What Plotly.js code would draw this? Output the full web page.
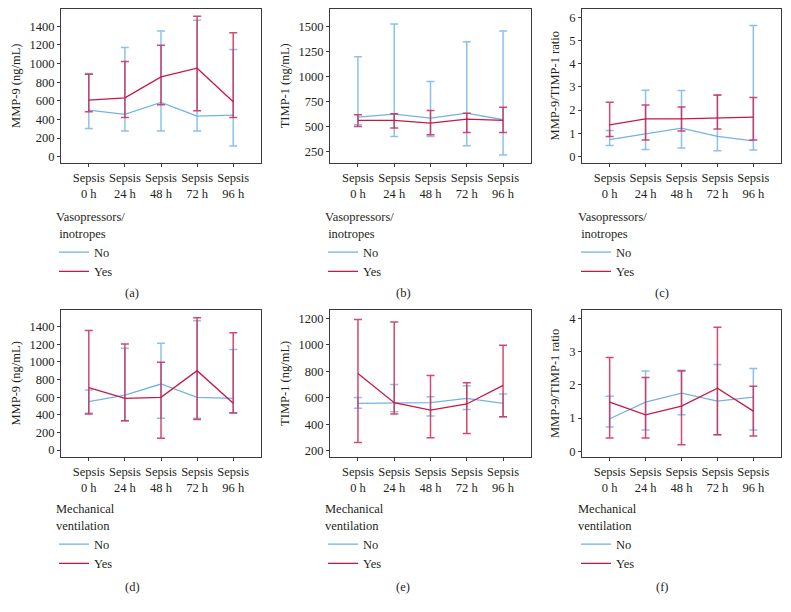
<!DOCTYPE html>
<html>
<head>
<meta charset="utf-8">
<script src="https://cdn.plot.ly/plotly-3.0.1.min.js"></script>
<style>html,body{margin:0;padding:0;background:#fff;}#chart{width:791px;height:612px;}</style>
</head>
<body>
<div id="chart"></div>
<script>
// Categories
var categories = ["Sepsis<br>0 h", "Sepsis<br>24 h", "Sepsis<br>48 h", "Sepsis<br>72 h", "Sepsis<br>96 h"];
var seriesNames = ["No", "Yes"];

// (a) Vasopressors/inotropes – MMP-9 (ng/mL)
var aNoMean  = [500, 454, 582, 436, 446];
var aNoLow   = [304, 275, 275, 275, 114];
var aNoHigh  = [893, 1171, 1350, 1464, 1150];
var aYesMean = [607, 632, 857, 950, 589];
var aYesLow  = [482, 421, 557, 493, 421];
var aYesHigh = [886, 1021, 1196, 1507, 1329];

// (b) Vasopressors/inotropes – TIMP-1 (ng/mL)
var bNoMean  = [593, 623, 583, 633, 567];
var bNoLow   = [517, 400, 400, 307, 213];
var bNoHigh  = [1200, 1527, 950, 1350, 1457];
var bYesMean = [560, 560, 533, 573, 560];
var bYesLow  = [500, 483, 417, 440, 440];
var bYesHigh = [617, 627, 660, 633, 693];

// (c) Vasopressors/inotropes – MMP-9/TIMP-1 ratio
var cNoMean  = [0.72, 0.96, 1.22, 0.86, 0.67];
var cNoLow   = [0.47, 0.29, 0.36, 0.24, 0.27];
var cNoHigh  = [1.12, 2.86, 2.84, 2.64, 5.66];
var cYesMean = [1.36, 1.62, 1.62, 1.65, 1.69];
var cYesLow  = [0.86, 0.70, 1.09, 1.18, 0.70];
var cYesHigh = [2.34, 2.22, 2.13, 2.65, 2.54];

// (d) Mechanical ventilation – MMP-9 (ng/mL)
var dNoMean  = [549, 624, 749, 598, 586];
var dNoLow   = [416, 333, 359, 359, 424];
var dNoHigh  = [681, 1154, 1211, 1468, 1142];
var dYesMean = [708, 586, 598, 900, 530];
var dYesLow  = [409, 333, 132, 345, 420];
var dYesHigh = [1355, 1203, 995, 1502, 1332];

// (e) Mechanical ventilation – TIMP-1 (ng/mL)
var eNoMean  = [558, 563, 563, 595, 558];
var eNoLow   = [520, 495, 462, 512, 457];
var eNoHigh  = [603, 701, 608, 690, 628];
var eYesMean = [784, 563, 507, 553, 694];
var eYesLow  = [263, 477, 298, 331, 457];
var eYesHigh = [1192, 1172, 769, 714, 996];

// (f) Mechanical ventilation – MMP-9/TIMP-1 ratio
var fNoMean  = [0.98, 1.48, 1.75, 1.51, 1.63];
var fNoLow   = [0.73, 0.64, 1.10, 0.50, 0.64];
var fNoHigh  = [1.66, 2.42, 2.44, 2.61, 2.49];
var fYesMean = [1.48, 1.10, 1.36, 1.90, 1.21];
var fYesLow  = [0.40, 0.40, 0.20, 0.50, 0.46];
var fYesHigh = [2.82, 2.22, 2.42, 3.73, 1.96];

var yTitles = ["MMP-9 (ng/mL)", "TIMP-1 (ng/mL)", "MMP-9/TIMP-1 ratio",
               "MMP-9 (ng/mL)", "TIMP-1 (ng/mL)", "MMP-9/TIMP-1 ratio"];
var legendTitles = ["Vasopressors/<br> inotropes", "Vasopressors/<br> inotropes", "Vasopressors/<br> inotropes",
                    "Mechanical<br>ventilation", "Mechanical<br>ventilation", "Mechanical<br>ventilation"];
var panelLabels = ["(a)", "(b)", "(c)", "(d)", "(e)", "(f)"];

var panels = [
  [aNoMean, aNoLow, aNoHigh, aYesMean, aYesLow, aYesHigh],
  [bNoMean, bNoLow, bNoHigh, bYesMean, bYesLow, bYesHigh],
  [cNoMean, cNoLow, cNoHigh, cYesMean, cYesLow, cYesHigh],
  [dNoMean, dNoLow, dNoHigh, dYesMean, dYesLow, dYesHigh],
  [eNoMean, eNoLow, eNoHigh, eYesMean, eYesLow, eYesHigh],
  [fNoMean, fNoLow, fNoHigh, fYesMean, fYesLow, fYesHigh]
];

// ---- styling / layout (not data) ----
var W = 791, H = 612;
var FONT = "Liberation Serif, Times New Roman, serif";
var FS = 12.5;
var TXT = "#231f20";
var blueLine = "rgb(116,178,230)", blueBar = "rgba(120,182,234,0.85)";
var redLine = "rgb(200,24,70)", redBar = "rgba(206,40,86,0.85)";

var xDom = [[61, 261], [330, 531], [582, 781]];
var yDom = [[8.5, 163], [310, 456.7]];
var yRanges = [[-67, 1590], [133, 1683], [-0.29, 6.39], [-76, 1589], [155, 1263], [-0.16, 4.25]];
var yDtick = [200, 250, 1, 200, 200, 1];
var yTick0 = [0, 250, 0, 0, 200, 0];
var labelX = [132, 403, 662];
var labelY = [293, 587];
var legendTop = [205, 497];
var legendLeft = [54, 323, 576];

function diff(a, b) { return a.map(function (v, i) { return v - b[i]; }); }

var traces = [];
var layout = {
  width: W, height: H,
  margin: {l: 0, r: 0, t: 0, b: 0},
  paper_bgcolor: "#fff", plot_bgcolor: "#fff",
  font: {family: FONT, size: FS, color: TXT},
  annotations: []
};

panels.forEach(function (p, k) {
  var col = k % 3, row = Math.floor(k / 3);
  var sfx = k === 0 ? "" : String(k + 1);
  var lg = "legend" + sfx;
  var colors = [[blueLine, blueBar], [redLine, redBar]];
  for (var s = 0; s < 2; s++) {
    var mean = p[s * 3], low = p[s * 3 + 1], high = p[s * 3 + 2];
    traces.push({
      type: "scatter", mode: "lines",
      x: categories, y: mean,
      name: seriesNames[s],
      xaxis: "x" + sfx, yaxis: "y" + sfx,
      legend: lg,
      line: {color: colors[s][0], width: 1.3},
      error_y: {type: "data", symmetric: false, array: diff(high, mean), arrayminus: diff(mean, low),
                color: colors[s][1], thickness: 1.5, width: 4},
      hoverinfo: "skip"
    });
  }
  layout["xaxis" + sfx] = {
    domain: [xDom[col][0] / W, xDom[col][1] / W],
    anchor: "y" + sfx,
    type: "category", range: [-0.77, 4.77],
    showline: true, mirror: true, linecolor: "#3a3a3a", linewidth: 1,
    ticks: "outside", ticklen: 3, tickcolor: "#3a3a3a",
    showgrid: false, zeroline: false,
    tickfont: {family: FONT, size: FS, color: TXT},
    fixedrange: true
  };
  layout["yaxis" + sfx] = {
    domain: [1 - yDom[row][1] / H, 1 - yDom[row][0] / H],
    anchor: "x" + sfx,
    range: yRanges[k], tick0: yTick0[k], dtick: yDtick[k],
    showline: true, mirror: true, linecolor: "#3a3a3a", linewidth: 1,
    ticks: "outside", ticklen: 3, tickcolor: "#3a3a3a",
    showgrid: false, zeroline: false,
    tickfont: {family: FONT, size: FS, color: TXT},
    title: {text: yTitles[k], font: {family: FONT, size: FS, color: TXT}, standoff: 6},
    fixedrange: true
  };
  layout[lg] = {
    x: legendLeft[col] / W, y: 1 - legendTop[row] / H,
    xanchor: "left", yanchor: "top",
    bgcolor: "rgba(0,0,0,0)", borderwidth: 0,
    font: {family: FONT, size: FS, color: TXT},
    title: {text: legendTitles[k], font: {family: FONT, size: FS, color: TXT}, side: "top"},
    itemwidth: 30, tracegroupgap: 0,
    traceorder: "normal"
  };
  layout.annotations.push({
    xref: "paper", yref: "paper",
    x: labelX[col] / W, y: 1 - labelY[row] / H,
    xanchor: "center", yanchor: "middle",
    text: panelLabels[k], showarrow: false,
    font: {family: FONT, size: FS, color: TXT}
  });
});

Plotly.newPlot("chart", traces, layout, {displayModeBar: false, staticPlot: true});
</script>
</body>
</html>
